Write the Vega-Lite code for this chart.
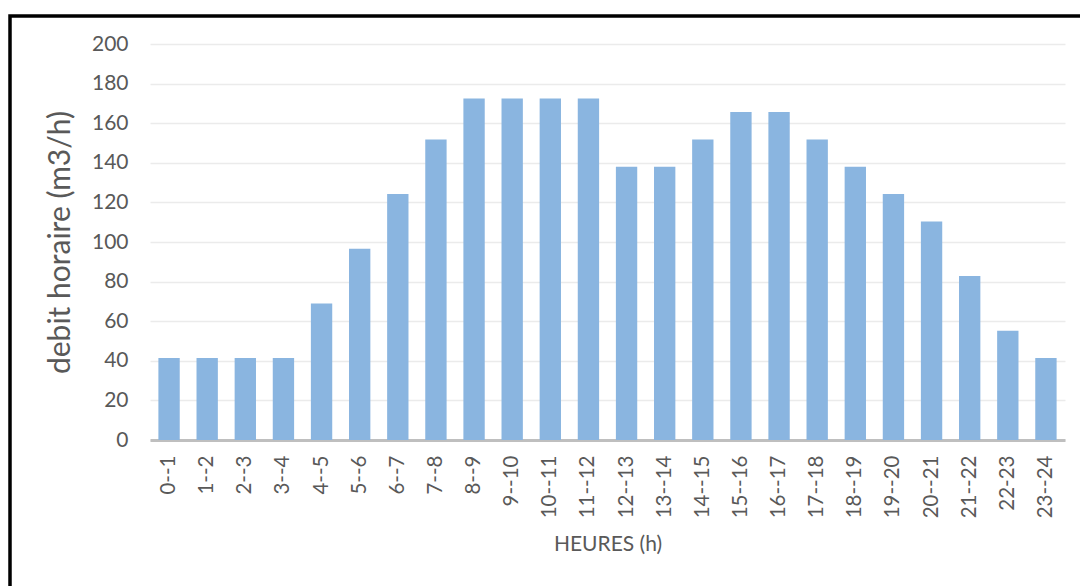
{
  "$schema": "https://vega.github.io/schema/vega-lite/v6.json",
  "autosize": {"type": "none"},
  "padding": {"left": 10, "top": 16, "right": -10, "bottom": -10},
  "width": 1080,
  "height": 580,
  "background": "white",
  "config": {
    "font": "Lato",
    "view": {"stroke": "#000000", "strokeWidth": 3.5},
    "axis": {
      "labelColor": "#595959",
      "titleColor": "#595959",
      "labelFont": "Lato",
      "titleFont": "Lato",
      "titleFontWeight": "normal",
      "ticks": false
    }
  },
  "data": {
    "values": [
      {"heure": "0--1", "debit": 41.4},
      {"heure": "1--2", "debit": 41.4},
      {"heure": "2--3", "debit": 41.4},
      {"heure": "3--4", "debit": 41.4},
      {"heure": "4--5", "debit": 69},
      {"heure": "5--6", "debit": 96.6},
      {"heure": "6--7", "debit": 124.2},
      {"heure": "7--8", "debit": 151.8},
      {"heure": "8--9", "debit": 172.5},
      {"heure": "9--10", "debit": 172.5},
      {"heure": "10--11", "debit": 172.5},
      {"heure": "11--12", "debit": 172.5},
      {"heure": "12--13", "debit": 138},
      {"heure": "13--14", "debit": 138},
      {"heure": "14--15", "debit": 151.8},
      {"heure": "15--16", "debit": 165.6},
      {"heure": "16--17", "debit": 165.6},
      {"heure": "17--18", "debit": 151.8},
      {"heure": "18--19", "debit": 138},
      {"heure": "19--20", "debit": 124.2},
      {"heure": "20--21", "debit": 110.4},
      {"heure": "21--22", "debit": 82.8},
      {"heure": "22-23", "debit": 55.2},
      {"heure": "23--24", "debit": 41.4}
    ]
  },
  "mark": {"type": "bar", "color": "#8AB5E0"},
  "encoding": {
    "x": {
      "field": "heure",
      "type": "nominal",
      "sort": null,
      "scale": {"range": [140, 1055], "paddingInner": 0.44, "paddingOuter": 0.22},
      "axis": {
        "title": "HEURES (h)",
        "titleFontSize": 21,
        "titlePadding": 16,
        "labelAngle": -90,
        "labelFontSize": 20.5,
        "labelPadding": 15,
        "labelBaseline": "middle",
        "labelAlign": "right",
        "domainColor": "#BFBFBF",
        "domainWidth": 3,
        "offset": -156,
        "grid": false
      }
    },
    "y": {
      "field": "debit",
      "type": "quantitative",
      "scale": {"domain": [0, 200], "range": [424, 28], "nice": false},
      "axis": {
        "title": "debit horaire (m3/h)",
        "titleFontSize": 30,
        "titlePadding": 16,
        "values": [0, 20, 40, 60, 80, 100, 120, 140, 160, 180, 200],
        "labelFontSize": 21,
        "labelPadding": 22,
        "domain": false,
        "grid": true,
        "gridColor": "#EBEBEB",
        "gridWidth": 1.5,
        "offset": -140
      }
    }
  }
}
